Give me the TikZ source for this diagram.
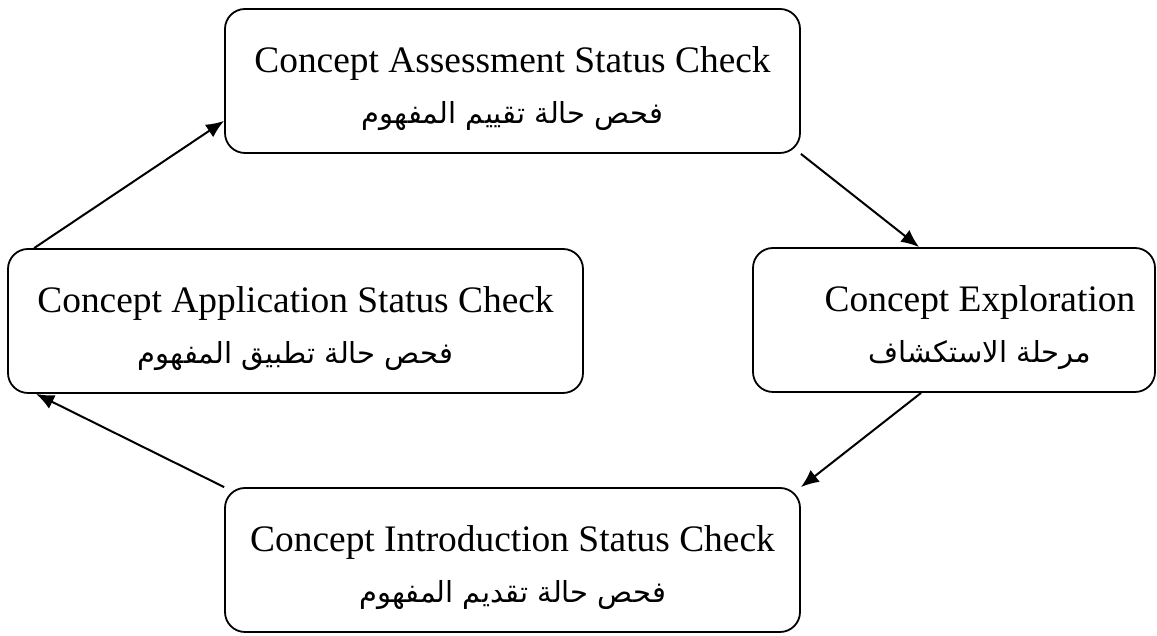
\documentclass[tikz,border=0pt]{standalone}
\usepackage{fontspec}
\setmainfont{Liberation Serif}
\newfontfamily\arabicfont[Script=Arabic]{DejaVu Sans}
\TeXXeTstate=1
\usetikzlibrary{arrows.meta, positioning}

\newcommand{\artext}[1]{{\arabicfont\fontsize{14.5}{25.5}\selectfont\beginR #1\endR}}
\newcommand{\topstrut}{\rule{0pt}{22.5pt}}
\newcommand{\botstrut}{\rule[-5pt]{0pt}{5pt}}

\begin{document}
\begin{tikzpicture}[>={Latex[length=9pt,width=7.5pt]}, line width=1pt, x=1pt, y=1pt]

\tikzstyle{stage} = [draw, shape=rectangle, rounded corners=10pt, align=center, inner sep=0pt, minimum height=72pt, minimum width=287.5pt, font=\fontsize{18.7}{25.5}\selectfont, line width=0.9pt]

\useasboundingbox (0,0) rectangle (578.5,318);

%Creating Blocks
\node [stage] at (256.25,277.5) (assess) {\topstrut Concept Assessment Status Check\\ \artext{فحص حالة تقييم المفهوم}\botstrut};
\node [stage, minimum width=201pt] at (477,158) (explore) {\topstrut\hspace*{26pt}Concept Exploration\\ \hspace*{26pt}\artext{مرحلة الاستكشاف}\botstrut};
\node [stage] at (147.75,157.5) (apply) {\topstrut Concept Application Status Check\\ \artext{فحص حالة تطبيق المفهوم}\botstrut};
\node [stage] at (256.25,38) (intro) {\topstrut Concept Introduction Status Check\\ \artext{فحص حالة تقديم المفهوم}\botstrut};

%Connecting Blocks
\draw[->] ([xshift=13.5pt]apply.north west) -- ([yshift=16.5pt]assess.south west);
\draw[->] (assess.south east) -- ([xshift=83.5pt]explore.north west);
\draw[->] ([xshift=84.5pt]explore.south west) -- (intro.north east);
\draw[->] (intro.north west) -- ([xshift=14.5pt]apply.south west);
\end{tikzpicture}
\end{document}
